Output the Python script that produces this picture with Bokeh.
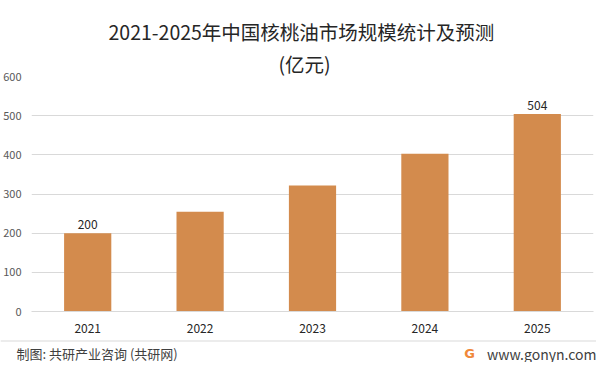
from bokeh.plotting import figure
from bokeh.models import (ColumnDataSource, FixedTicker, Label, Title, Span, Range1d, Plot)
from bokeh.embed import file_html
from bokeh.resources import INLINE
from bokeh.core.properties import value

years = ["2021", "2022", "2023", "2024", "2025"]
market = [200, 255, 322, 403, 504]
labeled = ["200", "", "", "", "504"]
y_ticks = [0, 100, 200, 300, 400, 500, 600]

title_main = "2021-2025年中国核桃油市场规模统计及预测"
title_unit = "(亿元)"
footer_left = "制图: 共研产业咨询 (共研网)"
footer_right = "www.gonyn.com"

CJK = "Noto Sans CJK SC"
W = 596
H_MAIN = 339
H_FOOT = 23

p = figure(x_range=years, y_range=(0, 600), width=W, height=H_MAIN,
           output_backend="svg", toolbar_location=None,
           min_border_left=25, min_border_right=3,
           min_border_top=76, min_border_bottom=28)
p.outline_line_color = None
p.background_fill_color = "white"
p.border_fill_color = "white"

src = ColumnDataSource(dict(x=years, y=market, t=labeled))
p.vbar(x="x", top="y", width=0.42, source=src, fill_color="#D38B4D", line_color=None)
p.text(x="x", y="y", text="t", source=src, text_align="center", text_baseline="bottom",
       y_offset=-4, text_font=value(CJK), text_font_size="12px", text_color="#262626")

p.xgrid.grid_line_color = None
p.ygrid.grid_line_color = "#d9d9d9"
p.yaxis.ticker = FixedTicker(ticks=y_ticks)
p.yaxis.axis_line_color = None
p.yaxis.major_tick_line_color = None
p.yaxis.minor_tick_line_color = None
p.yaxis.major_label_text_font = CJK
p.yaxis.major_label_text_font_size = "11px"
p.yaxis.major_label_text_color = "#595959"
p.yaxis.major_label_standoff = 4

p.xaxis.axis_line_color = "#d9d9d9"
p.xaxis.major_tick_line_color = None
p.xaxis.minor_tick_line_color = None
p.xaxis.major_label_text_font = CJK
p.xaxis.major_label_text_font_size = "12px"
p.xaxis.major_label_text_color = "#262626"
p.xaxis.major_label_standoff = 6

# titles
p.title.text = title_main
p.title.align = "left"
p.title.offset = 77
p.title.text_font = CJK
p.title.text_font_size = "19.5px"
p.title.text_font_style = "normal"
p.title.text_color = "#262626"
p.title.standoff = 4
sub = Title(text=title_unit, align="left", offset=247, text_font=CJK, text_font_size="19.5px",
            text_font_style="normal", text_color="#262626", standoff=-2)
p.add_layout(sub, "above")

# footer strip: its own root, so its frame spans its whole canvas
f = Plot(x_range=Range1d(0, W), y_range=Range1d(H_FOOT, 0), width=W, height=H_FOOT,
         output_backend="svg", toolbar_location=None, title=None,
         min_border=0, min_border_left=0, min_border_right=0,
         min_border_top=0, min_border_bottom=0,
         outline_line_color=None, background_fill_color="white", border_fill_color="white")
f.add_layout(Span(location=1.5, dimension="width", line_color="#d9d9d9", line_width=1))
f.add_layout(Label(x=16, y=14, text=footer_left, text_align="left", text_baseline="middle",
                   text_font=CJK, text_font_size="13px", text_color="#404040"))
f.add_layout(Label(x=596, y=14, text=footer_right, text_align="right", text_baseline="middle",
                   text_font=CJK, text_font_size="14px", text_color="#404040"))
f.add_layout(Label(x=469, y=14, text="G", text_align="center", text_baseline="middle",
                   text_font="DejaVu Sans", text_font_style="bold", text_font_size="13px",
                   text_color="#F0883A"))

open("out.html", "w").write(file_html([p, f], INLINE))
